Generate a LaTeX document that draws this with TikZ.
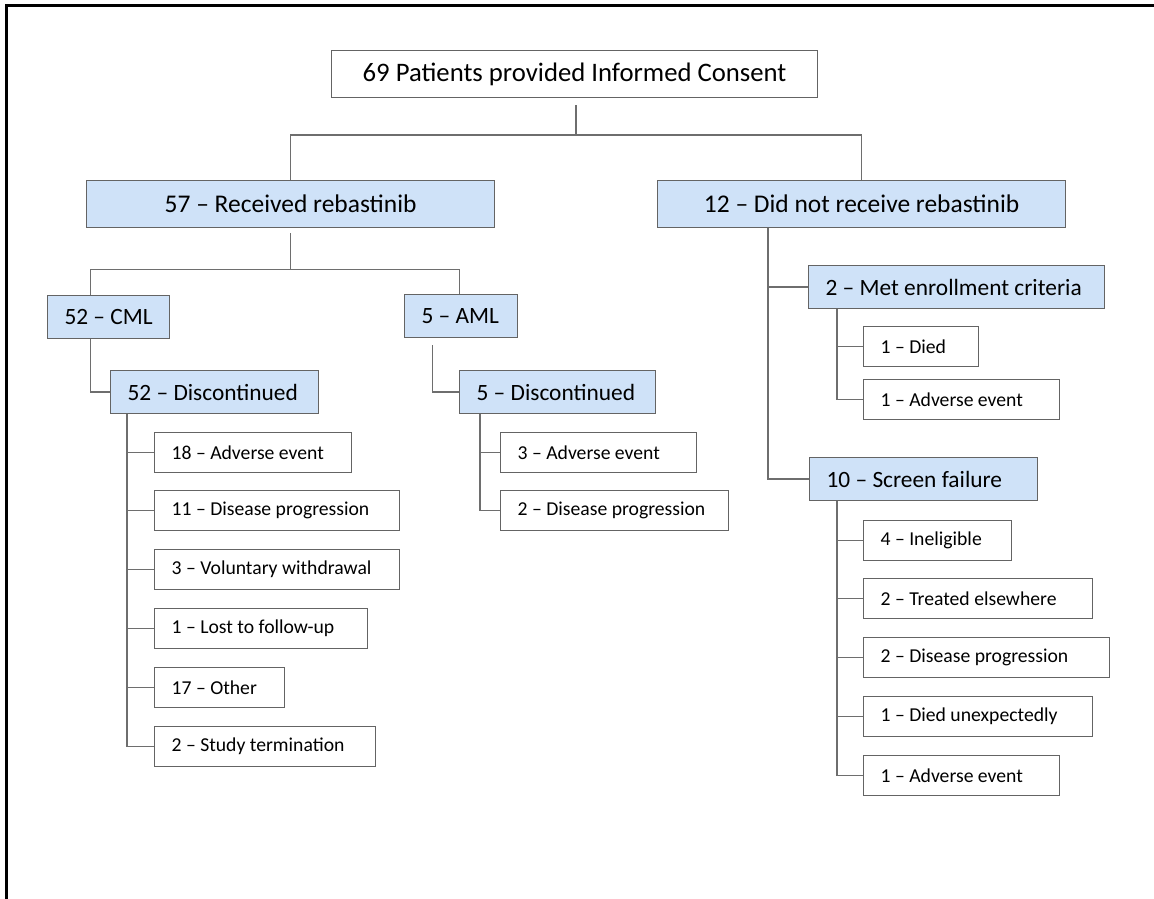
\documentclass[tikz,border=0pt]{standalone}
\usepackage{fontspec}
\setmainfont{Carlito}

\definecolor{boxblue}{RGB}{207,226,248}
\definecolor{boxgray}{RGB}{100,100,100}
\definecolor{linegray}{RGB}{110,110,110}

\tikzset{
	box/.style={draw=boxgray, line width=0.7pt, anchor=north west, inner xsep=0.34cm, inner ysep=0pt},
	lefttext/.style={execute at begin node={\hbox to #1\bgroup}, execute at end node={\hfil\egroup}},
	leaf/.style={box, lefttext=#1, minimum height=0.8cm, font=\fontsize{11.2}{13}\selectfont},
	midbox/.style={box, fill=boxblue, lefttext=#1, minimum height=0.86cm, font=\fontsize{13.3}{15}\selectfont},
	bigbox/.style={box, fill=boxblue, minimum width=8.16cm, minimum height=0.94cm, font=\fontsize{14.5}{17}\selectfont},
	link/.style={draw=linegray, line width=0.8pt},
}

\begin{document}
\begin{tikzpicture}[x=0.02cm, y=-0.02cm]
		\useasboundingbox (0,0) rectangle (1154,899);
		\draw[line width=1.5pt] (6.5,930) -- (6.5,5.5) -- (1180,5.5);

		\node[box, minimum width=9.72cm, minimum height=0.94cm, font=\fontsize{15.2}{18}\selectfont] (top) at (331,50) {69 Patients provided Informed Consent};
		\node[bigbox] (recv) at (86,180) {57 -- Received rebastinib};
		\node[bigbox] (norecv) at (657,180) {12 -- Did not receive rebastinib};

		\node[midbox=1.76cm] (cml) at (47,295) {52 -- CML};
		\node[midbox=1.58cm] (aml) at (404,294) {5 -- AML};
		\node[midbox=3.48cm] (disc52) at (110,370) {52 -- Discontinued};
		\node[midbox=3.24cm] (disc5) at (459,370) {5 -- Discontinued};
		\node[midbox=5.24cm] (met) at (808,265) {2 -- Met enrollment criteria};
		\node[midbox=3.88cm] (screen) at (809,457) {10 -- Screen failure};

		\node[leaf=3.26cm] (cml1) at (154,432) {18 -- Adverse event};
		\node[leaf=4.22cm] (cml2) at (154,490) {11 -- Disease progression};
		\node[leaf=4.22cm] (cml3) at (154,549) {3 -- Voluntary withdrawal};
		\node[leaf=3.58cm] (cml4) at (154,608) {1 -- Lost to follow-up};
		\node[leaf=1.92cm] (cml5) at (154,667) {17 -- Other};
		\node[leaf=3.74cm] (cml6) at (154,726) {2 -- Study termination};

		\node[leaf=3.24cm] (aml1) at (500,432) {3 -- Adverse event};
		\node[leaf=3.88cm] (aml2) at (500,490) {2 -- Disease progression};

		\node[leaf=1.62cm] (met1) at (863,326) {1 -- Died};
		\node[leaf=3.24cm] (met2) at (863,379) {1 -- Adverse event};

		\node[leaf=2.28cm] (scr1) at (863,520) {4 -- Ineligible};
		\node[leaf=3.90cm] (scr2) at (863,578) {2 -- Treated elsewhere};
		\node[leaf=4.24cm] (scr3) at (863,637) {2 -- Disease progression};
		\node[leaf=3.90cm] (scr4) at (863,696) {1 -- Died unexpectedly};
		\node[leaf=3.24cm] (scr5) at (863,755) {1 -- Adverse event};

		% top level split
		\coordinate (j0) at (576,135);
		\draw[link, shorten <=0.14cm] (top.south -| j0) -- (j0);
		\draw[link] (recv.north) |- (j0) -| (norecv.north);

		% received rebastinib
		\draw[link, shorten <=0.1cm] (recv.south) -- ++(0,41) coordinate (j1);
		\draw[link] ([xshift=-0.36cm]cml.north) |- (j1) -| ([xshift=-0.03cm]aml.north);
		\draw[link] ([xshift=-0.36cm]cml.south) |- (disc52.west);
		\draw[link, shorten <=0.14cm] ([xshift=-0.57cm]aml.south) |- (disc5.west);

		\draw[link] ([xshift=0.34cm]disc52.south west) |- (cml1.west);
		\draw[link] ([xshift=0.34cm]disc52.south west) |- (cml2.west);
		\draw[link] ([xshift=0.34cm]disc52.south west) |- (cml3.west);
		\draw[link] ([xshift=0.34cm]disc52.south west) |- (cml4.west);
		\draw[link] ([xshift=0.34cm]disc52.south west) |- (cml5.west);
		\draw[link] ([xshift=0.34cm]disc52.south west) |- (cml6.west);

		\draw[link] ([xshift=0.42cm]disc5.south west) |- (aml1.west);
		\draw[link] ([xshift=0.42cm]disc5.south west) |- (aml2.west);

		% did not receive rebastinib
		\draw[link] ([xshift=2.22cm]norecv.south west) |- (met.west);
		\draw[link] ([xshift=2.22cm]norecv.south west) |- (screen.west);

		\draw[link] ([xshift=0.58cm]met.south west) |- (met1.west);
		\draw[link] ([xshift=0.58cm]met.south west) |- (met2.west);

		\draw[link] ([xshift=0.56cm]screen.south west) |- (scr1.west);
		\draw[link] ([xshift=0.56cm]screen.south west) |- (scr2.west);
		\draw[link] ([xshift=0.56cm]screen.south west) |- (scr3.west);
		\draw[link] ([xshift=0.56cm]screen.south west) |- (scr4.west);
		\draw[link] ([xshift=0.56cm]screen.south west) |- (scr5.west);
	\end{tikzpicture}
\end{document}
